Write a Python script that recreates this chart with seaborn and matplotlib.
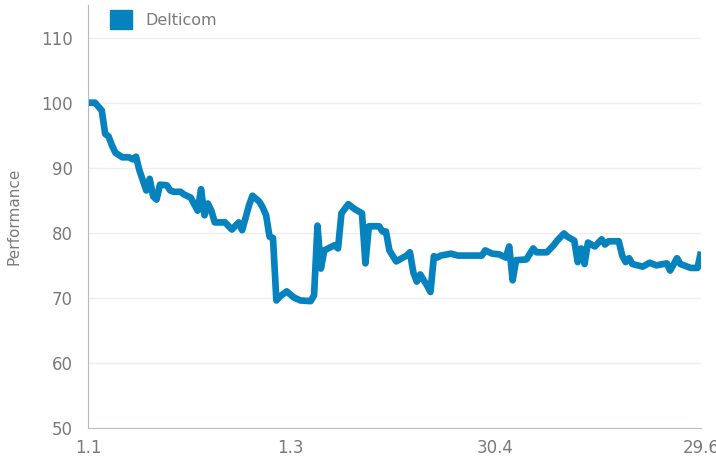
import matplotlib
matplotlib.use("Agg")
import matplotlib.pyplot as plt
from matplotlib.patches import Patch
import pandas as pd
import seaborn as sns

# days since 1 Jan and performance (start = 100)
days = [0, 2, 4, 5, 6, 7, 8, 10, 12, 13, 14, 15, 17, 18, 19, 20, 21, 23, 24, 25,
        27, 28, 30, 32, 33, 34, 35, 36, 37, 40, 42, 44, 45, 47, 48, 50, 51, 52, 53, 54,
        55, 56, 58, 60, 62, 65, 66, 67, 68, 69, 72, 73, 74, 76, 78, 80, 81, 82, 85, 86,
        87, 88, 90, 93, 94, 95, 96, 97, 99, 100, 101, 102, 103, 106, 108, 110, 112, 115, 116, 118,
        120, 122, 123, 124, 125, 128, 130, 131, 134, 136, 137, 139, 140, 142, 143, 144, 145, 146, 148, 150,
        151, 152, 155, 156, 157, 158, 159, 162, 164, 166, 169, 170, 172, 173, 176, 178, 179]
perf = [100.0, 100.0, 98.8, 95.2, 94.8, 93.4, 92.3, 91.6, 91.6, 91.3, 91.7, 89.6, 86.5, 88.3, 85.6, 85.1, 87.4, 87.3, 86.5, 86.3,
        86.3, 85.9, 85.4, 83.4, 86.7, 82.7, 84.5, 83.4, 81.6, 81.6, 80.5, 81.6, 80.4, 84.2, 85.7, 84.8, 83.9, 82.7, 79.4, 79.2,
        69.6, 70.2, 71.0, 70.1, 69.6, 69.5, 70.4, 81.1, 74.5, 77.3, 78.1, 77.6, 83.0, 84.4, 83.6, 83.0, 75.3, 81.0, 81.0, 80.2,
        80.2, 77.3, 75.6, 76.5, 77.0, 73.9, 72.5, 73.6, 71.9, 70.9, 76.4, 76.2, 76.5, 76.8, 76.5, 76.5, 76.5, 76.5, 77.3, 76.8,
        76.7, 76.2, 77.9, 72.7, 75.8, 75.9, 77.6, 77.0, 77.0, 78.1, 78.8, 79.9, 79.4, 78.8, 75.5, 77.6, 75.2, 78.5, 77.9, 79.0,
        78.2, 78.7, 78.7, 76.5, 75.5, 76.1, 75.2, 74.8, 75.4, 75.0, 75.3, 74.2, 76.1, 75.2, 74.6, 74.6, 77.1]
series_name = "Delticom"
tick_dates = ["2015-01-01", "2015-03-01", "2015-04-30", "2015-06-29"]
tick_labels = ["1.1", "1.3", "30.4", "29.6"]

df = pd.DataFrame({"date": pd.Timestamp("2015-01-01") + pd.to_timedelta(days, unit="D"),
                   "value": perf})

sns.set_style("white")
plt.rcParams["font.family"] = ["Liberation Sans Narrow", "DejaVu Sans"]

color = "#0682bf"
fig = plt.figure(figsize=(7.16, 4.59), dpi=100)
ax = fig.add_axes([0.123, 0.0675, 0.856, 0.9215])

sns.lineplot(data=df, x="date", y="value", ax=ax, color=color, linewidth=4.8,
             solid_joinstyle="round", solid_capstyle="butt")

ax.set_ylim(50, 115)
ax.set_yticks([50, 60, 70, 80, 90, 100, 110])
ax.set_xlim(pd.Timestamp(tick_dates[0]), pd.Timestamp(tick_dates[-1]))
ax.set_xticks(pd.to_datetime(tick_dates))
ax.set_xticklabels(tick_labels)

ax.grid(axis="y", color="#efefef", linewidth=1)
ax.set_axisbelow(True)
for s in ["top", "right"]:
    ax.spines[s].set_visible(False)
ax.spines["left"].set_color("#b8b8b8")
ax.spines["bottom"].set_color("#b8c4b8")
ax.tick_params(axis="both", colors="#888888", labelsize=12, length=5, width=0.8,
               direction="out")
ax.tick_params(axis="y", pad=6)
ax.tick_params(axis="x", pad=3)
for lab in ax.get_xticklabels() + ax.get_yticklabels():
    lab.set_color("#7a7a7a")

ax.set_xlabel("")
ax.set_ylabel("Performance", color="#7a7a7a", fontsize=11, labelpad=14)

handle = Patch(facecolor=color, edgecolor=color)
ax.legend([handle], [series_name], loc="upper left", frameon=False,
          handlelength=1.4, handleheight=1.4, fontsize=11.5, labelcolor="#7a7a7a",
          bbox_to_anchor=(0.02, 1.01), borderaxespad=0.2)

fig.savefig("out.png", dpi=100)
